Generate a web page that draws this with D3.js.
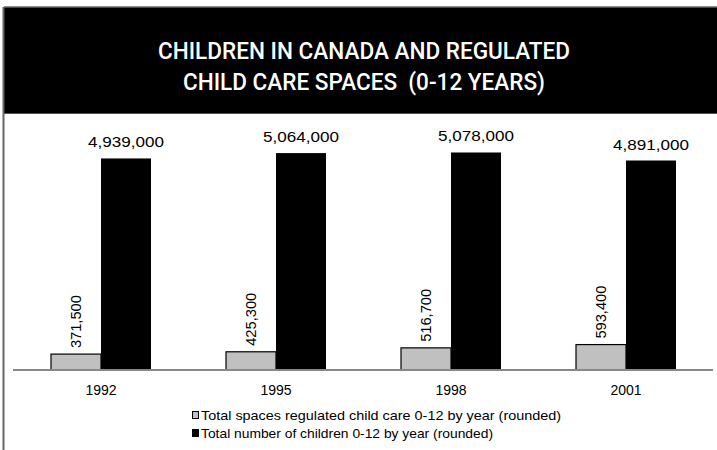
<!DOCTYPE html>
<html><head><meta charset="utf-8">
<script src="https://cdn.jsdelivr.net/npm/d3@7"></script>
<style>body{margin:0;background:#fff}svg{display:block}</style>
</head><body>
<script>
const years = ["1992","1995","1998","2001"];
const seriesNames = ["Total spaces regulated child care 0-12 by year (rounded)","Total number of children 0-12 by year (rounded)"];
const spaces = [371500, 425300, 516700, 593400];
const children = [4939000, 5064000, 5078000, 4891000];
const titleLines = ["CHILDREN IN CANADA AND REGULATED","CHILD CARE SPACES  (0-12 YEARS)"];

const W=717,H=450;
const svg=d3.select("body").append("svg").attr("width",W).attr("height",H);
// frame
svg.append("rect").attr("x",4).attr("y",7).attr("width",W-4).attr("height",107).attr("fill","#000");
svg.append("line").attr("x1",4).attr("x2",W).attr("y1",7).attr("y2",7).attr("stroke","#666").attr("stroke-width",1.5);
svg.append("line").attr("x1",4).attr("x2",W).attr("y1",113.5).attr("y2",113.5).attr("stroke","#555").attr("stroke-width",1);
svg.append("line").attr("x1",3.5).attr("x2",3.5).attr("y1",7).attr("y2",H).attr("stroke","#666").attr("stroke-width",2);

const tf='Roboto,"Liberation Sans",Arial,sans-serif';
const tl=[412,362], ty=[59,90];
titleLines.forEach((t,i)=>{
  svg.append("text").attr("x",364).attr("y",ty[i]).attr("text-anchor","middle")
   .attr("fill","#fff").attr("font-family",tf).attr("font-size",24).attr("font-weight",500)
   .style("white-space","pre")
   .attr("textLength",tl[i]).attr("lengthAdjust","spacingAndGlyphs").text(t);
});

const x0=d3.scaleBand().domain(years).range([13.5,713.5]).padding(0);
const x1=d3.scaleBand().domain([0,1]).range([0,x0.bandwidth()]).paddingInner(0).paddingOuter(0.75);
const y=d3.scaleLinear().domain([0,6000000]).range([370,113]);
const fam='"Liberation Sans",Arial,sans-serif';
const fmt=d3.format(",");

const g=svg.append("g");
years.forEach((yr,i)=>{
  const gx=x0(yr);
  g.append("rect").attr("x",gx+x1(0)).attr("y",y(spaces[i])).attr("width",x1.bandwidth()).attr("height",y(0)-y(spaces[i]))
   .attr("fill","#c0c0c0").attr("stroke","#000").attr("stroke-width",1.2);
  g.append("rect").attr("x",gx+x1(1)).attr("y",y(children[i])).attr("width",x1.bandwidth()).attr("height",y(0)-y(children[i]))
   .attr("fill","#000");
  const cx0=gx+x1(0)+x1.bandwidth()/2, cx1=gx+x1(1)+x1.bandwidth()/2;
  g.append("text").attr("transform",`translate(${cx0+5},${y(spaces[i])-6}) rotate(-90)`)
   .attr("font-family",fam).attr("font-size",15).attr("fill","#000")
   .attr("textLength",53).attr("lengthAdjust","spacingAndGlyphs").text(fmt(spaces[i]));
  g.append("text").attr("x",cx1).attr("y",y(children[i])-11).attr("text-anchor","middle")
   .attr("font-family",fam).attr("font-size",14).attr("fill","#000")
   .attr("textLength",76).attr("lengthAdjust","spacingAndGlyphs").text(fmt(children[i]));
});

// axis
const ax=svg.append("g").attr("transform","translate(0,370)").call(d3.axisBottom(x0).tickSize(0).tickPadding(15));
ax.select(".domain").attr("stroke","#888").attr("stroke-width",2).attr("d","M13,0H713");
ax.selectAll("text").attr("font-family",fam).attr("font-size",14).attr("fill","#000");

// legend
const lg=svg.append("g");
const lw=[360,292];
seriesNames.forEach((s,i)=>{
  const ly=[415,433][i];
  lg.append("rect").attr("x",192.5).attr("y",ly-3.5).attr("width",6).attr("height",7)
    .attr("fill",i===0?"#c0c0c0":"#000").attr("stroke","#000").attr("stroke-width",1);
  lg.append("text").attr("x",201).attr("y",ly+4.5).attr("font-family",fam).attr("font-size",13)
    .attr("fill","#000").attr("textLength",lw[i]).attr("lengthAdjust","spacingAndGlyphs").text(s);
});
</script>
</body></html>
